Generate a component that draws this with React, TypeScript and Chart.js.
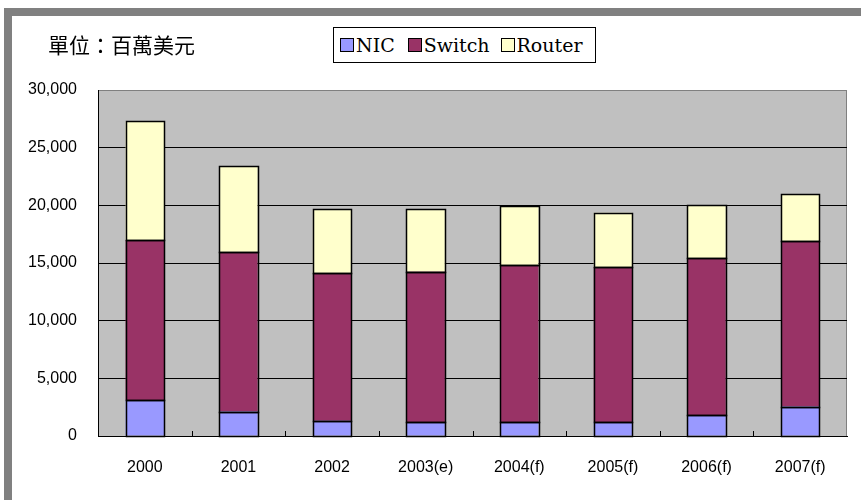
import React, { useEffect, useRef } from 'react';
import { Chart, registerables } from 'chart.js';

Chart.register(...registerables);

const categories = ['2000', '2001', '2002', '2003(e)', '2004(f)', '2005(f)', '2006(f)', '2007(f)'];
const nicValues = [3080, 2120, 1330, 1190, 1190, 1220, 1830, 2550];
const switchValues = [13920, 13830, 12770, 13050, 13630, 13430, 13600, 14360];
const routerValues = [10290, 7420, 5540, 5400, 5120, 4710, 4560, 4040];
const seriesNames = ['NIC', 'Switch', 'Router'];
const seriesColors = ['#9999FF', '#993366', '#FFFFCC'];
const yMin = 0;
const yMax = 30000;
const yStep = 5000;
const unitLabel = '單位：百萬美元';

const plotBackground = {
  id: 'plotBackground',
  beforeDraw(chart: any) {
    const { ctx, chartArea: a } = chart;
    ctx.save();
    ctx.fillStyle = '#C0C0C0';
    ctx.fillRect(a.left, a.top, a.right - a.left, a.bottom - a.top);
    ctx.strokeStyle = '#808080';
    ctx.lineWidth = 1;
    ctx.beginPath();
    ctx.moveTo(a.left, a.top + 0.5);
    ctx.lineTo(a.right - 0.5, a.top + 0.5);
    ctx.lineTo(a.right - 0.5, a.bottom);
    ctx.stroke();
    ctx.restore();
  },
};

const barOutlines = {
  id: 'barOutlines',
  afterDatasetsDraw(chart: any) {
    const { ctx } = chart;
    ctx.save();
    ctx.strokeStyle = '#000000';
    ctx.lineWidth = 1.5;
    chart.data.datasets.forEach((_d: any, di: number) => {
      const meta = chart.getDatasetMeta(di);
      meta.data.forEach((el: any) => {
        const { x, y, base, width } = el.getProps(['x', 'y', 'base', 'width'], true);
        const l = Math.round(x - width / 2) + 0.5;
        const r = Math.round(x + width / 2) + 0.5;
        const t = Math.round(Math.min(y, base)) + 0.5;
        const b = Math.round(Math.max(y, base)) + 0.5;
        ctx.strokeRect(l, t, r - l, b - t);
      });
    });
    ctx.restore();
  },
};

const innerTicks = {
  id: 'innerTicks',
  afterDatasetsDraw(chart: any) {
    const { ctx, chartArea: a } = chart;
    const xs = chart.scales.x;
    const n = categories.length;
    const step = xs.getPixelForValue(1) - xs.getPixelForValue(0);
    ctx.save();
    ctx.strokeStyle = '#000';
    ctx.lineWidth = 1;
    ctx.beginPath();
    for (let i = 1; i < n; i++) {
      const x = Math.round(xs.getPixelForValue(i) - step / 2) + 0.5;
      ctx.moveTo(x, a.bottom);
      ctx.lineTo(x, a.bottom - 5);
    }
    ctx.stroke();
    ctx.restore();
  },
};

export default function App() {
  const canvasRef = useRef<HTMLCanvasElement | null>(null);

  useEffect(() => {
    if (!canvasRef.current) return;
    const seriesValues = [nicValues, switchValues, routerValues];
    const chart = new Chart(canvasRef.current, {
      type: 'bar',
      data: {
        labels: categories,
        datasets: seriesNames.map((name, i) => ({
          label: name,
          data: seriesValues[i],
          backgroundColor: seriesColors[i],
          borderWidth: 0,
          inflateAmount: 0,
          barPercentage: 0.41,
          categoryPercentage: 1,
        })),
      },
      options: {
        responsive: false,
        animation: false,
        devicePixelRatio: 1,
        layout: { padding: { left: 0, right: 14, top: 74, bottom: 0 } },
        plugins: {
          legend: { display: false },
          tooltip: { enabled: false },
          title: { display: false },
        },
        scales: {
          x: {
            stacked: true,
            offset: true,
            grid: { display: true, drawOnChartArea: false, drawTicks: false },
            border: { display: true, color: '#000000', width: 1 },
            ticks: {
              color: '#000000',
              font: { family: "'Liberation Sans', Arial, sans-serif", size: 16 },
              padding: 22,
              maxRotation: 0,
              autoSkip: false,
            },
            afterFit: (scale: any) => {
              scale.height = 64;
            },
          },
          y: {
            stacked: true,
            min: yMin,
            max: yMax,
            grid: {
              color: (c: any) => (c.tick && c.tick.value === yMax ? '#808080' : '#000000'),
              lineWidth: 1,
              drawTicks: false,
            },
            border: { display: true, color: '#000000', width: 1 },
            ticks: {
              stepSize: yStep,
              color: '#000000',
              font: { family: "'Liberation Sans', Arial, sans-serif", size: 16 },
              padding: 21,
              callback: (v: any) => Number(v).toLocaleString('en-US'),
            },
            afterFit: (scale: any) => {
              scale.width = 86;
            },
          },
        },
      },
      plugins: [plotBackground, barOutlines, innerTicks],
    });
    return () => chart.destroy();
  }, []);

  const legendItem = (name: string, color: string, gap: number) => (
    <div key={name} style={{ display: 'flex', alignItems: 'center', marginRight: gap }}>
      <div
        style={{
          width: 12,
          height: 12,
          background: color,
          border: '1px solid #000',
          marginRight: 2,
        }}
      />
      <span>{name}</span>
    </div>
  );

  return (
    <div style={{ position: 'fixed', left: 0, top: 0, width: 861, height: 500, background: '#fff', overflow: 'hidden' }}>
      <div
        style={{
          position: 'absolute',
          left: 4,
          top: 8,
          width: 857,
          height: 492,
          boxSizing: 'border-box',
          borderLeft: '8px solid #808080',
          borderTop: '8px solid #808080',
        }}
      />
      <div style={{ position: 'absolute', left: 12, top: 16, width: 849, height: 484 }}>
        <canvas ref={canvasRef} width={849} height={484} style={{ display: 'block' }} />
      </div>
      <div
        style={{
          position: 'absolute',
          left: 48,
          top: 34,
          fontFamily: "'Noto Sans CJK TC', sans-serif",
          fontSize: 21,
          lineHeight: '21px',
          color: '#000',
          whiteSpace: 'nowrap',
        }}
      >
        {unitLabel}
      </div>
      <div
        style={{
          position: 'absolute',
          left: 333,
          top: 27,
          width: 263,
          height: 36,
          boxSizing: 'border-box',
          border: '1px solid #000',
          background: '#fff',
          display: 'flex',
          alignItems: 'center',
          paddingLeft: 6,
          fontFamily: "'DejaVu Serif', serif",
          fontSize: 19,
          color: '#000',
          whiteSpace: 'nowrap',
        }}
      >
        {seriesNames.map((n, i) => legendItem(n, seriesColors[i], i === 0 ? 13 : 11))}
      </div>
    </div>
  );
}
